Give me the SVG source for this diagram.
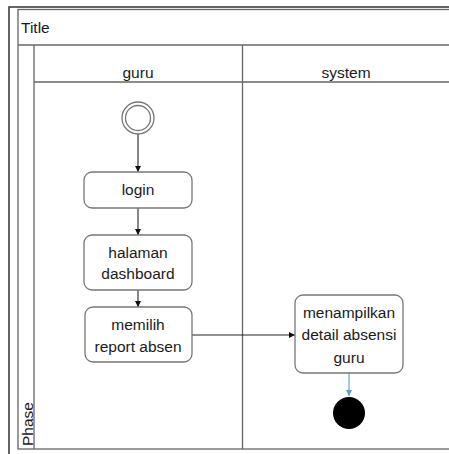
<svg xmlns="http://www.w3.org/2000/svg" width="449" height="454" viewBox="0 0 449 454">
<style>
.t{font-family:"Liberation Sans",Arial,sans-serif;font-size:15.5px;fill:#1a1a1a;text-anchor:middle}
.box{fill:#fff;stroke:#777;stroke-width:1.3}
.ln{stroke:#666;stroke-width:1.3;fill:none}
.c{stroke:#222;stroke-width:1.1;fill:none}
</style>
<defs>
<marker id="ah" markerWidth="8" markerHeight="8" refX="7" refY="4" orient="auto" markerUnits="userSpaceOnUse"><path d="M1,1 L7,4 L1,7 Z" fill="#111"/></marker>
<marker id="ahb" markerWidth="8" markerHeight="8" refX="7" refY="4" orient="auto" markerUnits="userSpaceOnUse"><path d="M1,1 L7,4 L1,7 Z" fill="#5b9bd5"/></marker>
</defs>
<rect width="449" height="454" fill="#fff"/>
<g id="frame">
<rect x="9" y="7" width="460" height="460" fill="none" stroke="#333" stroke-width="1.5"/>
<rect x="18" y="9.5" width="450" height="439.5" fill="none" stroke="#666" stroke-width="1.3"/>
<line class="ln" x1="18" y1="45" x2="449" y2="45"/>
<line class="ln" x1="34" y1="45" x2="34" y2="449"/>
<line class="ln" x1="34" y1="82" x2="449" y2="82"/>
<line class="ln" x1="242.5" y1="45" x2="242.5" y2="449"/>
<text x="21" y="33" class="t" style="text-anchor:start">Title</text>
<text x="138" y="78" class="t">guru</text>
<text x="346" y="78" class="t">system</text>
<text transform="translate(32.5,446) rotate(-90)" class="t" style="text-anchor:start">Phase</text>
</g>
<g id="connectors">
<line class="c" x1="138" y1="134" x2="138" y2="172" marker-end="url(#ah)"/>
<line class="c" x1="138" y1="208" x2="138" y2="235" marker-end="url(#ah)"/>
<line class="c" x1="138" y1="290" x2="138" y2="307" marker-end="url(#ah)"/>
<line class="c" x1="192" y1="335" x2="295" y2="335" marker-end="url(#ah)"/>
<line x1="349" y1="373" x2="349" y2="396" stroke="#5b9bd5" stroke-width="1.1" marker-end="url(#ahb)"/>
</g>
<g id="start">
<circle cx="138" cy="118" r="16" fill="#fff" stroke="#777" stroke-width="1.3"/>
<circle cx="138" cy="118" r="12.5" fill="#fff" stroke="#777" stroke-width="1.3"/>
</g>
<g id="login">
<rect class="box" x="84" y="172" width="108" height="36" rx="8"/>
<text x="138" y="195" class="t">login</text>
</g>
<g id="dashboard">
<rect class="box" x="84" y="235" width="108" height="55" rx="8"/>
<text x="138" y="258" class="t">halaman</text>
<text x="138" y="279" class="t">dashboard</text>
</g>
<g id="memilih">
<rect class="box" x="85" y="307" width="107" height="55" rx="8"/>
<text x="138" y="330" class="t">memilih</text>
<text x="138" y="352" class="t">report absen</text>
</g>
<g id="menampilkan">
<rect class="box" x="295" y="295" width="108" height="78" rx="8"/>
<text x="349" y="318" class="t">menampilkan</text>
<text x="349" y="340" class="t">detail absensi</text>
<text x="349" y="363" class="t">guru</text>
</g>
<g id="end">
<circle cx="349" cy="413" r="16" fill="#000"/>
</g>
</svg>
